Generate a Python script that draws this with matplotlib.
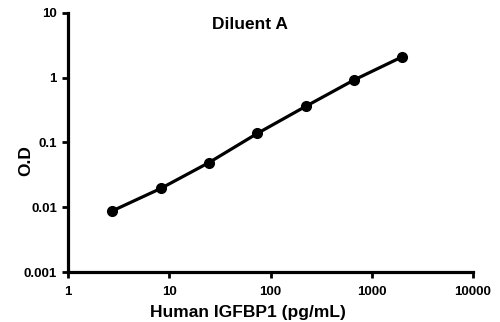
import matplotlib
matplotlib.use("Agg")
import matplotlib.pyplot as plt
from matplotlib.ticker import FixedLocator, NullLocator

concentration = [2.74, 8.23, 24.7, 74.1, 222, 667, 2000]
od = [0.0088, 0.0195, 0.049, 0.138, 0.36, 0.92, 2.1]
x_ticks = [1, 10, 100, 1000, 10000]
x_tick_labels = ["1", "10", "100", "1000", "10000"]
y_ticks = [0.001, 0.01, 0.1, 1, 10]
y_tick_labels = ["0.001", "0.01", "0.1", "1", "10"]

plt.rcParams["font.family"] = ["Liberation Sans", "DejaVu Sans"]
plt.rcParams["font.weight"] = "bold"

fig = plt.figure(figsize=(5.0, 3.22), dpi=100)
ax = fig.add_axes([0.136, 0.155, 0.810, 0.805])

ax.plot(concentration, od, color="black", lw=2.3, marker="o", ms=7,
        solid_capstyle="round")

ax.set_xscale("log")
ax.set_yscale("log")
ax.set_xlim(1, 10000)
ax.set_ylim(0.001, 10)
ax.xaxis.set_major_locator(FixedLocator(x_ticks))
ax.yaxis.set_major_locator(FixedLocator(y_ticks))
ax.xaxis.set_minor_locator(NullLocator())
ax.yaxis.set_minor_locator(NullLocator())
ax.set_xticklabels(x_tick_labels, fontsize=9.5, fontweight="bold")
ax.set_yticklabels(y_tick_labels, fontsize=9.5, fontweight="bold")
ax.tick_params(axis="x", direction="out", length=4, width=2, pad=6)
ax.tick_params(axis="y", direction="out", length=4, width=2, pad=4)

for side in ("top", "right"):
    ax.spines[side].set_visible(False)
for side in ("left", "bottom"):
    ax.spines[side].set_linewidth(2.3)

fig.text(0.496, 0.03, "Human IGFBP1 (pg/mL)", ha="center", va="center",
         fontsize=12.5, fontweight="bold")
fig.text(0.052, 0.5, "O.D", ha="center", va="center", rotation=90,
         fontsize=12.5, fontweight="bold")
fig.text(0.5, 0.925, "Diluent A", ha="center", va="center",
         fontsize=12.5, fontweight="bold")

fig.savefig("out.png", dpi=100)
